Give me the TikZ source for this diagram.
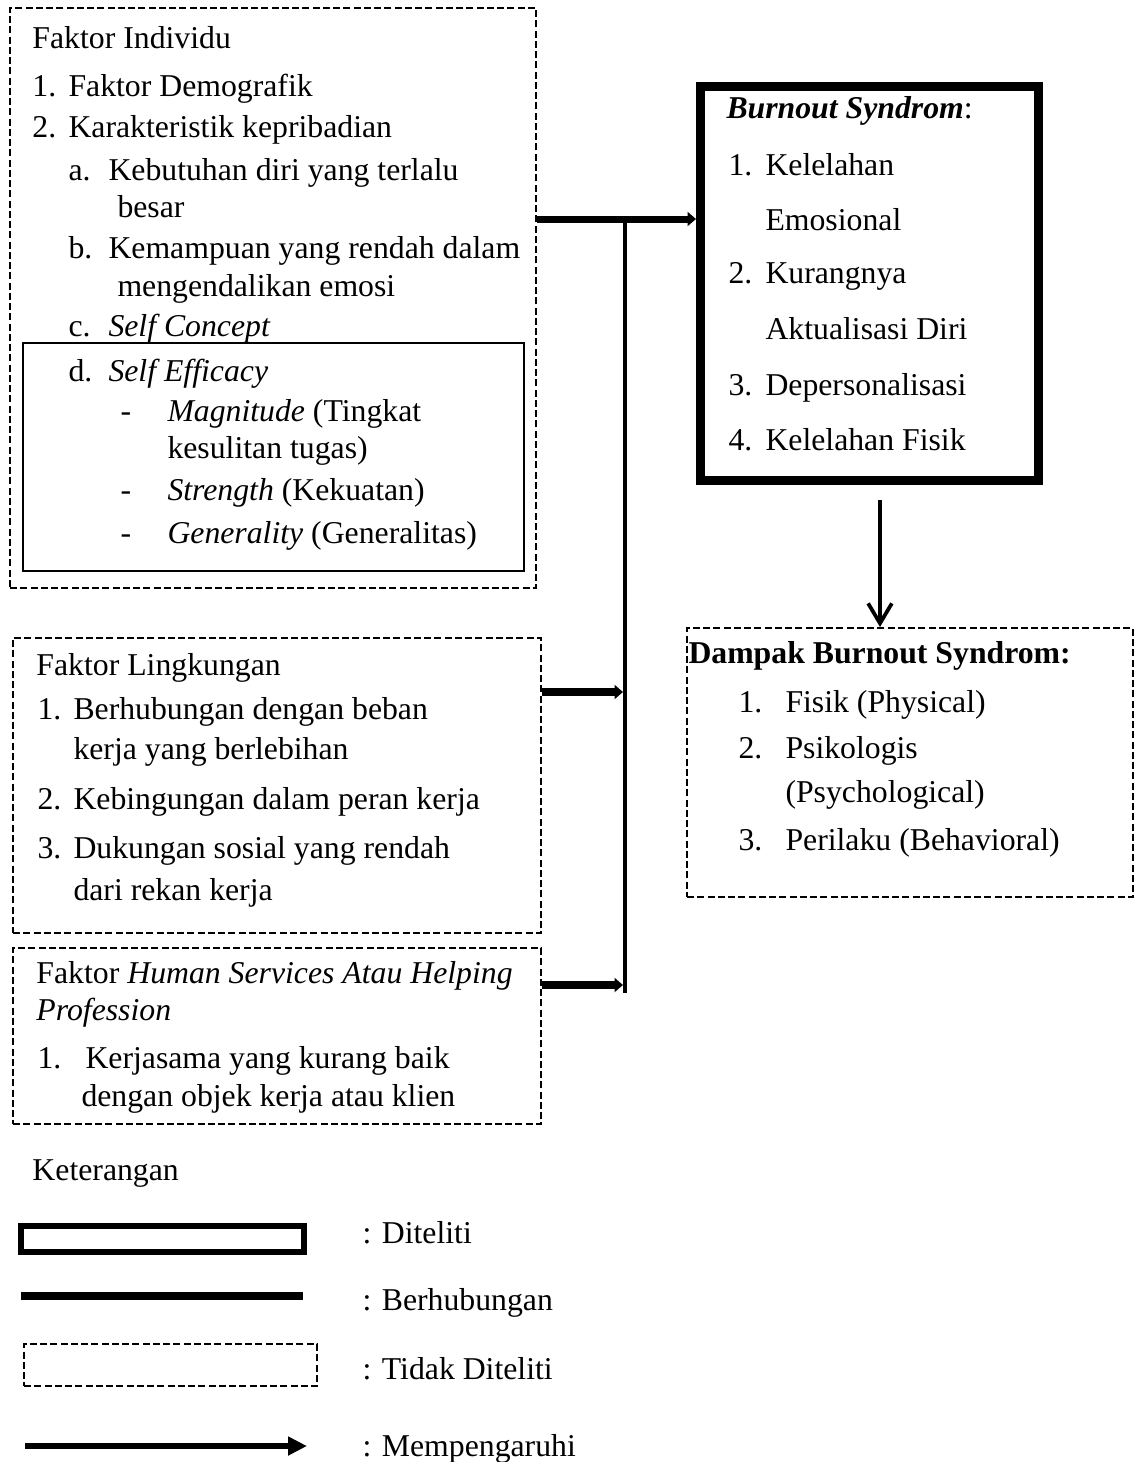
\documentclass[tikz,border=0pt]{standalone}
\usepackage{fontspec}
\setmainfont{Liberation Serif}
\usetikzlibrary{arrows.meta, positioning}

\begin{document}
\begin{tikzpicture}[x=0.4pt, y=-0.4pt, font=\fontsize{12.7}{15}\selectfont,
	txt/.style = {anchor=base west, inner sep=0pt},
	boxsize/.style 2 args = {minimum width=#1*0.4pt, minimum height=#2*0.4pt, inner sep=0pt},
	notinspected/.style = {draw, dash pattern=on 2.8pt off 1.3pt, line width=0.8pt},
	inspected/.style = {draw, line width=3.6pt},
	related/.style = {line width=3pt},
	affects/.style = {line width=2.8pt, -{Triangle[length=3.4pt,width=5.6pt]}},
	impact/.style = {line width=1.5pt, -{Straight Barb[length=8pt,width=9.5pt]}}
	]
	\useasboundingbox (0,0) rectangle (1135,1462);

	% boxes
	\node[notinspected, boxsize={526}{580}] (indiv) at (273,298) {};
	\node[draw, line width=1.1pt, boxsize={501}{228}] (effic) at (273.5,457) {};
	\node[inspected, boxsize={338}{394}] (burn) at (869.5,283.5) {};
	\node[notinspected, boxsize={446}{269}] (dampak) at (910,762.5) {};
	\node[notinspected, boxsize={528}{295}] (lingk) at (277,785.5) {};
	\node[notinspected, boxsize={528}{176}] (human) at (277,1036) {};

	% faktor individu
	\foreach \x/\y/\s [count=\i] in {32/48/Faktor Individu, 32/96/1., 68/96/Faktor Demografik,
		32/137/2., 68/137/Karakteristik kepribadian, 68/180/a., 108/180/Kebutuhan diri yang terlalu,
		117/217/besar, 68/258/b., 108/258/Kemampuan yang rendah dalam, 117/296/mengendalikan emosi,
		68/336/c., 108/336/\textit{Self Concept}, 68/381/d., 108/381/\textit{Self Efficacy},
		120/421/-, 167/421/\textit{Magnitude} (Tingkat, 167/458/kesulitan tugas),
		120/500/-, 167/500/\textit{Strength} (Kekuatan), 120/543/-, 167/543/\textit{Generality} (Generalitas)}
		{\node[txt] (ind\i) at (\x,\y) {\s};}

	% burnout
	\node[txt] (burntitle) at (726,118) {\textbf{\textit{Burnout Syndrom}}:};
	\foreach \x/\y/\s [count=\i] in {728/175/1., 765/175/Kelelahan, 765/230/Emosional,
		728/283/2., 765/283/Kurangnya, 765/339/Aktualisasi Diri,
		728/395/3., 765/395/Depersonalisasi, 728/450/4., 765/450/Kelelahan Fisik}
		{\node[txt] (bur\i) at (\x,\y) {\s};}

	% dampak
	\node[txt] (dptitle) at (688,663) {\textbf{Dampak Burnout Syndrom:}};
	\foreach \x/\y/\s [count=\i] in {738/712/1., 785/712/Fisik (Physical), 738/758/2., 785/758/Psikologis,
		785/802/(Psychological), 738/850/3., 785/850/Perilaku (Behavioral)}
		{\node[txt] (dp\i) at (\x,\y) {\s};}

	% lingkungan
	\foreach \x/\y/\s [count=\i] in {36/675/Faktor Lingkungan, 37/719/1., 73/719/Berhubungan dengan beban,
		73/759/kerja yang berlebihan, 37/809/2., 73/809/Kebingungan dalam peran kerja,
		37/858/3., 73/858/Dukungan sosial yang rendah, 73/900/dari rekan kerja}
		{\node[txt] (lk\i) at (\x,\y) {\s};}

	% human services
	\foreach \x/\y/\s [count=\i] in {36/983/Faktor \textit{Human Services Atau Helping}, 36/1020/\textit{Profession},
		37/1068/1., 85/1068/Kerjasama yang kurang baik, 81/1106/dengan objek kerja atau klien}
		{\node[txt] (hs\i) at (\x,\y) {\s};}

	% connectors
	\coordinate (jtop) at (625,219);
	\coordinate (jmid) at (625,692);
	\coordinate (jlow) at (625,985);
	\coordinate (jend) at (625,993);
	\draw[line width=1.6pt] (jtop) -- (jend);
	\draw[affects] (indiv.east |- jtop) -- (burn.west |- jtop);
	\draw[affects, line width=3.2pt, shorten >=0.8pt] (lingk.east |- jmid) -- (jmid);
	\draw[affects, line width=3.2pt, shorten >=0.8pt] (human.east |- jlow) -- (jlow);
	\coordinate (dstart) at ([shift={(10.5,15)}]burn.south);
	\draw[impact] (dstart) -- (dampak.north -| dstart);

	% keterangan
	\node[txt] (ket) at (32,1180) {Keterangan};
	\node[inspected, line width=2.4pt, boxsize={283}{26}] (lgbox) at (162.5,1239) {};
	\coordinate (lgl1) at (21,1296);
	\coordinate (lgl2) at (303,1296);
	\draw[related, line width=3.2pt] (lgl1) -- (lgl2);
	\node[notinspected, boxsize={293}{42}] (lgdash) at (170.5,1365) {};
	\coordinate (lga1) at (25,1446);
	\coordinate (lga2) at (307,1446);
	\draw[line width=2.6pt, -{Triangle[length=7.6pt,width=7.2pt]}] (lga1) -- (lga2);
	\foreach \y/\s [count=\i] in {1243/: Diteliti, 1310/: Berhubungan, 1379/: Tidak Diteliti, 1456/: Mempengaruhi}
		{\node[txt] (lgt\i) at (362,\y) {\s};}
\end{tikzpicture}
\end{document}
